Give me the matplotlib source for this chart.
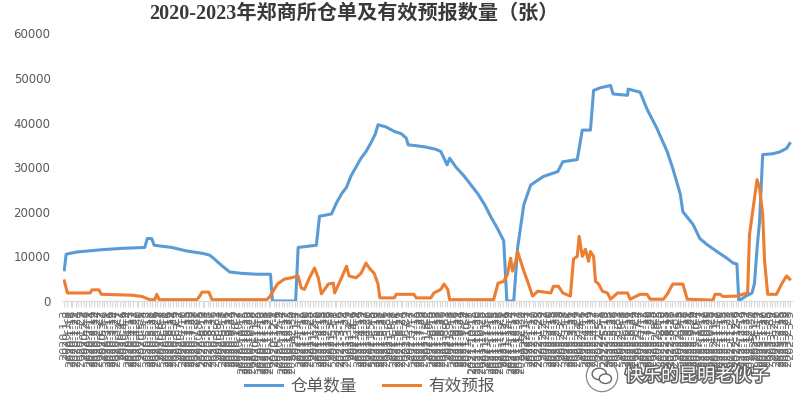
import matplotlib
matplotlib.use("Agg")
import matplotlib.pyplot as plt
import matplotlib.patheffects as pe
from matplotlib.patches import Circle, Ellipse
import pandas as pd

plt.rcParams['font.family'] = ['Noto Sans CJK SC', 'DejaVu Sans']

title = "2020-2023年郑商所仓单及有效预报数量（张）"
series_names = ["仓单数量", "有效预报"]
watermark = "快乐的昆明老伙子"

# 仓单数量 (warehouse receipts)
receipt_dates = [
    "2020-01-03", "2020-01-06", "2020-01-24", "2020-03-03", "2020-04-04", "2020-05-10",
    "2020-05-14", "2020-05-21", "2020-05-25", "2020-06-22", "2020-07-16", "2020-08-09",
    "2020-08-21", "2020-08-28", "2020-09-09", "2020-09-22", "2020-10-11", "2020-11-04",
    "2020-11-26", "2020-11-29", "2021-01-05", "2021-01-09", "2021-02-07", "2021-02-12",
    "2021-03-03", "2021-03-11", "2021-03-19", "2021-03-27", "2021-04-03", "2021-04-11",
    "2021-04-19", "2021-04-27", "2021-05-05", "2021-05-12", "2021-05-16", "2021-05-29",
    "2021-06-11", "2021-06-22", "2021-06-30", "2021-07-03", "2021-07-16", "2021-07-31",
    "2021-08-16", "2021-08-24", "2021-09-03", "2021-09-07", "2021-09-17", "2021-09-30",
    "2021-10-11", "2021-10-22", "2021-11-02", "2021-11-11", "2021-11-23", "2021-12-02",
    "2021-12-07", "2021-12-18", "2021-12-24", "2022-01-03", "2022-01-14", "2022-02-03",
    "2022-02-26", "2022-03-06", "2022-03-29", "2022-04-06", "2022-04-19", "2022-04-24",
    "2022-05-05", "2022-05-21", "2022-05-25", "2022-06-17", "2022-06-18", "2022-07-07",
    "2022-07-18", "2022-08-03", "2022-08-19", "2022-08-28", "2022-09-09", "2022-09-13",
    "2022-09-29", "2022-10-10", "2022-10-21", "2022-11-06", "2022-11-22", "2022-12-02",
    "2022-12-08", "2022-12-11", "2022-12-21", "2023-01-01", "2023-01-05", "2023-01-09",
    "2023-01-13", "2023-01-18", "2023-02-03", "2023-02-14", "2023-02-25", "2023-03-02",
]
receipt_values = [
    7000, 10500, 11000, 11500, 11800, 12000,
    14000, 14000, 12500, 12000, 11200, 10700,
    10300, 9500, 8000, 6500, 6200, 6000,
    6000, 0, 0, 12000, 12500, 19000,
    19500, 22000, 24000, 25500, 28000, 30000,
    32000, 33500, 35500, 37500, 39500, 39000,
    38000, 37500, 36500, 35000, 34800, 34500,
    34000, 33500, 30500, 32000, 30000, 28000,
    26000, 24000, 21500, 19000, 16000, 13500,
    0, 0, 11800, 21600, 26000, 27900,
    29000, 31200, 31700, 38300, 38300, 47200,
    47800, 48300, 46400, 46100, 47500, 46800,
    43000, 38600, 33500, 29700, 23900, 20000,
    17200, 14000, 12700, 11100, 9600, 8500,
    8300, 0, 1000, 1800, 4000, 11800,
    17800, 32800, 33000, 33400, 34200, 35300,
]

# 有效预报 (valid forecasts)
forecast_dates = [
    "2020-01-03", "2020-01-08", "2020-02-13", "2020-02-16", "2020-02-27", "2020-03-02",
    "2020-04-20", "2020-05-06", "2020-05-18", "2020-05-26", "2020-05-29", "2020-06-02",
    "2020-08-01", "2020-08-06", "2020-08-09", "2020-08-20", "2020-08-25", "2020-11-20",
    "2020-11-25", "2020-12-07", "2020-12-18", "2020-12-29", "2021-01-09", "2021-01-14",
    "2021-01-19", "2021-01-27", "2021-02-04", "2021-02-10", "2021-02-15", "2021-02-26",
    "2021-03-06", "2021-03-08", "2021-03-19", "2021-03-27", "2021-03-31", "2021-04-11",
    "2021-04-19", "2021-04-27", "2021-05-02", "2021-05-10", "2021-05-16", "2021-05-19",
    "2021-06-11", "2021-06-14", "2021-07-12", "2021-07-16", "2021-08-08", "2021-08-13",
    "2021-08-24", "2021-08-29", "2021-09-04", "2021-09-07", "2021-11-16", "2021-11-23",
    "2021-12-02", "2021-12-08", "2021-12-13", "2021-12-16", "2021-12-21", "2021-12-24",
    "2021-12-29", "2022-01-03", "2022-01-09", "2022-01-17", "2022-01-25", "2022-02-15",
    "2022-02-19", "2022-02-27", "2022-03-06", "2022-03-18", "2022-03-23", "2022-03-29",
    "2022-04-01", "2022-04-06", "2022-04-11", "2022-04-16", "2022-04-19", "2022-04-24",
    "2022-04-27", "2022-05-02", "2022-05-08", "2022-05-16", "2022-05-21", "2022-06-01",
    "2022-06-17", "2022-06-21", "2022-07-07", "2022-07-18", "2022-07-23", "2022-08-13",
    "2022-08-19", "2022-08-28", "2022-09-13", "2022-09-20", "2022-10-31", "2022-11-03",
    "2022-11-11", "2022-11-16", "2022-12-08", "2022-12-17", "2022-12-25", "2022-12-28",
    "2023-01-02", "2023-01-09", "2023-01-13", "2023-01-18", "2023-01-21", "2023-01-26",
    "2023-02-09", "2023-02-17", "2023-02-25", "2023-03-02",
]
forecast_values = [
    4500, 1800, 1800, 2500, 2500, 1500,
    1300, 1000, 300, 300, 1500, 300,
    300, 1200, 2000, 2000, 300, 300,
    1000, 3800, 4900, 5200, 5600, 2900,
    2600, 5200, 7400, 5200, 1600, 3800,
    4000, 1800, 5200, 7800, 5600, 5200,
    6200, 8500, 7400, 6200, 3800, 700,
    700, 1500, 1500, 700, 700, 1800,
    2600, 3800, 2600, 300, 300, 4000,
    4400, 6000, 9600, 6700, 8900, 11100,
    8900, 6700, 4400, 1100, 2200, 1800,
    3300, 3300, 1800, 1100, 9400, 10000,
    14500, 10000, 11600, 8900, 11100, 10000,
    4400, 3800, 2200, 1800, 400, 1800,
    1800, 400, 1500, 1500, 400, 400,
    1500, 3800, 3800, 400, 200, 1500,
    1500, 1000, 1100, 1500, 1800, 14900,
    20000, 27200, 25200, 19400, 8900, 1500,
    1500, 3800, 5600, 4900,
]

y_ticks = [0, 10000, 20000, 30000, 40000, 50000, 60000]

BLUE = "#5B9BD5"
ORANGE = "#ED7D31"
GRAY = "#595959"

fig = plt.figure(figsize=(7.98, 3.99), dpi=100)
ax = fig.add_axes([0.079, 0.2456, 0.913, 0.671])

ax.plot(pd.to_datetime(receipt_dates), receipt_values, color=BLUE, lw=2.2,
        label=series_names[0], solid_joinstyle="round")
ax.plot(pd.to_datetime(forecast_dates), forecast_values, color=ORANGE, lw=2.2,
        label=series_names[1], solid_joinstyle="round")

ax.set_ylim(0, 60000)
ax.set_yticks(y_ticks)
ax.set_yticklabels([str(v) for v in y_ticks], fontsize=8.5, color=GRAY,
                   family="DejaVu Sans")
ax.tick_params(axis="y", length=0, pad=9)

ax.set_xlim(pd.Timestamp("2020-01-01"), pd.Timestamp("2023-03-05"))
tick_dates = pd.bdate_range("2020-01-03", "2023-03-03")[::3]
tick_labels = [f"{d.year}-{d.month}-{d.day}" for d in tick_dates]
ax.set_xticks(tick_dates)
ax.set_xticklabels(tick_labels, rotation=90, fontsize=8, color="#6a6a6a",
                   family="DejaVu Sans", va="top", ha="center")
ax.tick_params(axis="x", length=4, color="#D9D9D9", width=0.8, pad=2)

for s in ["left", "right", "top"]:
    ax.spines[s].set_visible(False)
ax.spines["bottom"].set_color("#D9D9D9")
ax.spines["bottom"].set_linewidth(0.8)
ax.grid(False)

fig.text(354 / 798, 1 - 14 / 399, title, ha="center", va="center",
         fontsize=14.5, fontweight="bold", color="#3a3a3a",
         family=["Liberation Serif", "Noto Sans CJK SC"])

leg = fig.legend(loc="center", bbox_to_anchor=(370 / 798, 1 - 386 / 399), ncol=2,
                 frameon=False, fontsize=12, handlelength=2.2, columnspacing=1.6,
                 handletextpad=0.5)
for t in leg.get_texts():
    t.set_color(GRAY)

# watermark
wm = fig.text(697 / 798, 1 - 376 / 399, watermark, ha="center", va="center",
              fontsize=13, color="white")
wm.set_path_effects([pe.Stroke(linewidth=2.2, foreground="#666666"), pe.Normal()])
icon_ax = fig.add_axes([585 / 798, 1 - 393 / 399, 34 / 798, 34 / 399])
icon_ax.set_xlim(0, 1)
icon_ax.set_ylim(0, 1)
icon_ax.set_aspect("equal")
icon_ax.axis("off")
icon_ax.add_patch(Circle((0.5, 0.5), 0.46, fill=False, ec="#888888", lw=0.9))
icon_ax.add_patch(Ellipse((0.42, 0.56), 0.42, 0.34, fill=False, ec="#666666", lw=1.0))
icon_ax.add_patch(Ellipse((0.6, 0.42), 0.36, 0.28, fc="white", ec="#666666", lw=1.0))

fig.savefig("out.png", dpi=100, facecolor="white")
